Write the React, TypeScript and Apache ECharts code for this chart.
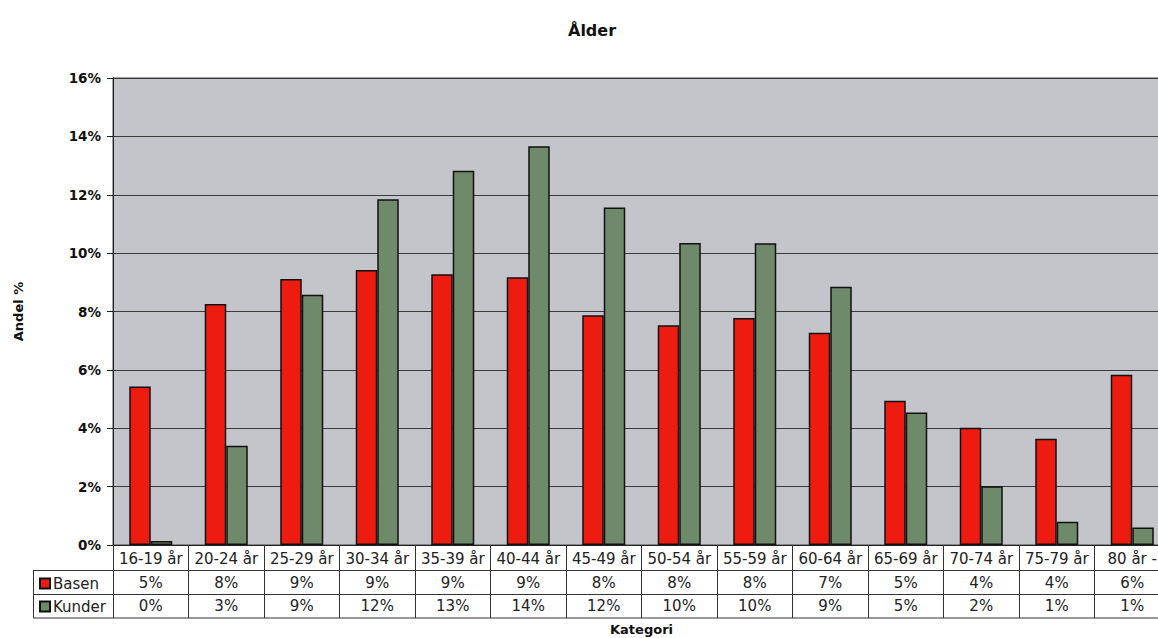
import React, { useEffect, useRef } from "react";
import * as echarts from "echarts";

const categories = [
  "16-19 år", "20-24 år", "25-29 år", "30-34 år", "35-39 år", "40-44 år", "45-49 år",
  "50-54 år", "55-59 år", "60-64 år", "65-69 år", "70-74 år", "75-79 år", "80 år -",
];
const basen = [5.43, 8.26, 9.11, 9.42, 9.28, 9.17, 7.87, 7.53, 7.78, 7.27, 4.94, 4.02, 3.64, 5.83];
const kunder = [0.14, 3.4, 8.57, 11.85, 12.82, 13.66, 11.56, 10.35, 10.34, 8.85, 4.54, 2.01, 0.8, 0.6];
const yTicks = { min: 0, max: 16, interval: 2 };

const FONT = "DejaVu Sans";

export default function App() {
  const ref = useRef<HTMLDivElement>(null);
  useEffect(() => {
    if (!ref.current) return;
    const chart = echarts.init(ref.current, null, { renderer: "svg" });
    const lineStyle = { stroke: "#333", lineWidth: 1 };
    chart.setOption({
      animation: false,
      backgroundColor: "#ffffff",
      title: {
        text: "Ålder",
        left: 563,
        top: 17,
        textStyle: { fontFamily: FONT, fontWeight: "bold", fontSize: 16, color: "#111" },
      },
      legend: {
        orient: "vertical",
        left: 34,
        top: 570,
        itemWidth: 10,
        itemHeight: 10,
        itemGap: 6,
        icon: "rect",
        textStyle: { fontFamily: FONT, fontSize: 15, color: "#222", lineHeight: 17, padding: [0, 0, 0, -2] },
        data: ["Basen", "Kunder"],
      },
      grid: {
        left: 113,
        top: 78,
        width: 1057,
        bottom: 93,
        outerBoundsMode: "none",
        containLabel: false,
        show: true,
        backgroundColor: "#c4c5ca",
        borderColor: "#444",
        borderWidth: 1,
      },
      xAxis: {
        type: "category",
        data: categories,
        name: "Kategori",
        nameLocation: "middle",
        nameGap: 78,
        nameTextStyle: { fontFamily: FONT, fontWeight: "bold", fontSize: 13, color: "#111" },
        axisLine: { show: true, lineStyle: { color: "#222", width: 1 } },
        axisTick: { show: true, interval: 0, length: 73, lineStyle: { color: "#333", width: 1 } },
        axisLabel: {
          interval: 0,
          margin: 1,
          formatter: (value: string, index: number) =>
            `{h|${value}}\n{v|${Math.round(basen[index])}%}\n{v|${Math.round(kunder[index])}%}`,
          rich: {
            h: { fontFamily: FONT, fontSize: 15, color: "#222", lineHeight: 25 },
            v: { fontFamily: FONT, fontSize: 15, color: "#222", lineHeight: 23.5 },
          },
        },
      },
      yAxis: {
        type: "value",
        min: yTicks.min,
        max: yTicks.max,
        interval: yTicks.interval,
        name: "Andel %",
        nameLocation: "middle",
        nameRotate: 90,
        nameGap: 88,
        nameTextStyle: { fontFamily: FONT, fontWeight: "bold", fontSize: 13, color: "#111" },
        axisLine: { show: true, lineStyle: { color: "#222", width: 1 } },
        axisTick: { show: true, length: 6, lineStyle: { color: "#222" } },
        axisLabel: {
          formatter: "{value}%",
          margin: 12,
          fontFamily: FONT,
          fontWeight: "bold",
          fontSize: 13.5,
          color: "#111",
        },
        splitLine: { show: true, lineStyle: { color: "#3a3a3a", width: 1 } },
      },
      series: [
        {
          name: "Basen",
          type: "bar",
          data: basen,
          barWidth: 21.5,
          barGap: "0%",
          itemStyle: { color: "#ee1c10", borderColor: "#111", borderWidth: 1.5 },
        },
        {
          name: "Kunder",
          type: "bar",
          data: kunder,
          barWidth: 21.5,
          barGap: "0%",
          itemStyle: { color: "#6f8a6b", borderColor: "#111", borderWidth: 1.5 },
        },
      ],
      graphic: [
        { type: "line", shape: { x1: 33, y1: 570.5, x2: 1158, y2: 570.5 }, style: lineStyle, silent: true },
        { type: "line", shape: { x1: 33, y1: 594.5, x2: 1158, y2: 594.5 }, style: lineStyle, silent: true },
        { type: "line", shape: { x1: 33, y1: 618, x2: 1158, y2: 618 }, style: lineStyle, silent: true },
        { type: "line", shape: { x1: 33.5, y1: 570.5, x2: 33.5, y2: 618 }, style: lineStyle, silent: true },
      ],
    });
    return () => chart.dispose();
  }, []);
  return (
    <div
      ref={ref}
      style={{ position: "fixed", left: 0, top: 0, width: 1158, height: 638 }}
    />
  );
}
